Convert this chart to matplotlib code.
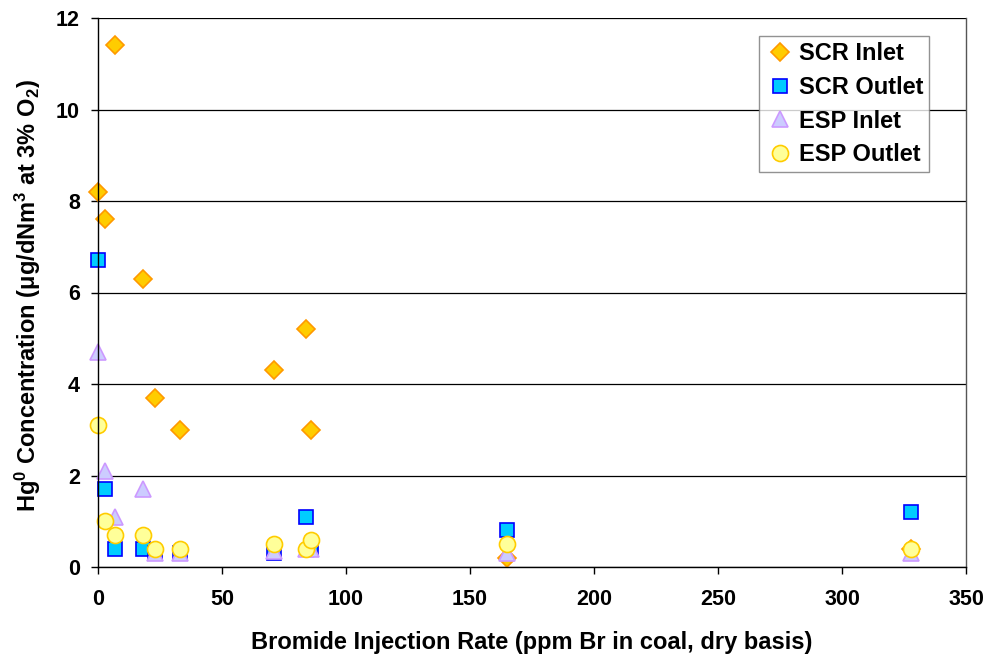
import matplotlib
matplotlib.use("Agg")
import matplotlib.pyplot as plt
from matplotlib.ticker import MultipleLocator

plt.rcParams['font.family'] = ['Liberation Sans', 'DejaVu Sans']
plt.rcParams['font.weight'] = 'bold'
plt.rcParams['mathtext.fontset'] = 'custom'
plt.rcParams['mathtext.rm'] = 'Liberation Sans:bold'
plt.rcParams['mathtext.bf'] = 'Liberation Sans:bold'
plt.rcParams['mathtext.default'] = 'bf'

# Data
scr_in_x = [0, 3, 7, 18, 23, 33, 71, 84, 86, 165, 328]
scr_in_y = [8.2, 7.6, 11.4, 6.3, 3.7, 3.0, 4.3, 5.2, 3.0, 0.2, 0.4]
scr_out_x = [0, 3, 7, 18, 23, 33, 71, 84, 86, 165, 328]
scr_out_y = [6.7, 1.7, 0.4, 0.4, 0.3, 0.3, 0.3, 1.1, 0.4, 0.8, 1.2]
esp_in_x = [0, 3, 7, 18, 23, 33, 71, 84, 86, 165, 328]
esp_in_y = [4.7, 2.1, 1.1, 1.7, 0.3, 0.3, 0.35, 0.4, 0.4, 0.3, 0.3]
esp_out_x = [0, 3, 7, 18, 23, 33, 71, 84, 86, 165, 328]
esp_out_y = [3.1, 1.0, 0.7, 0.7, 0.4, 0.4, 0.5, 0.4, 0.6, 0.5, 0.4]

W, H = 987, 660
fig = plt.figure(figsize=(W / 100, H / 100), dpi=100)
ax = fig.add_axes([98 / W, 93 / H, 868 / W, 549 / H])

ax.set_xlim(0, 350)
ax.set_ylim(0, 12)
ax.xaxis.set_major_locator(MultipleLocator(50))
ax.yaxis.set_major_locator(MultipleLocator(2))
ax.yaxis.grid(True, color='black', linewidth=0.9)
ax.set_axisbelow(True)

ms = 10.5
ax.plot(scr_in_x, scr_in_y, linestyle='none', marker='D', markersize=ms * 0.85,
        markerfacecolor='#FFCC00', markeredgecolor='#FF9900', markeredgewidth=1.2,
        label='SCR Inlet', clip_on=False)
ax.plot(scr_out_x, scr_out_y, linestyle='none', marker='s', markersize=ms,
        markerfacecolor='#00CCFF', markeredgecolor='#0000FF', markeredgewidth=1.2,
        label='SCR Outlet', clip_on=False)
ax.plot(esp_in_x, esp_in_y, linestyle='none', marker='^', markersize=ms * 1.1,
        markerfacecolor='#CCCCFF', markeredgecolor='#CC99FF', markeredgewidth=1.2,
        label='ESP Inlet', clip_on=False)
ax.plot(esp_out_x, esp_out_y, linestyle='none', marker='o', markersize=ms * 1.1,
        markerfacecolor='#FFFF99', markeredgecolor='#FFCC00', markeredgewidth=1.2,
        label='ESP Outlet', clip_on=False)

for s in ['left', 'bottom']:
    ax.spines[s].set_color('black')
    ax.spines[s].set_linewidth(1.0)
ax.spines['top'].set_visible(False)
ax.spines['right'].set_color('#555555')
ax.spines['right'].set_linewidth(1.0)

ax.tick_params(axis='both', direction='out', length=5, width=1, labelsize=15.5, colors='black')
ax.tick_params(axis='x', pad=11)
ax.tick_params(axis='y', pad=8)
for lbl in ax.get_xticklabels() + ax.get_yticklabels():
    lbl.set_fontweight('bold')

ax.set_xlabel('Bromide Injection Rate (ppm Br in coal, dry basis)', fontsize=17,
              fontweight='bold')
ax.set_ylabel(r'Hg$^{0}$ Concentration (μg/dNm$^{3}$ at 3% O$_{2}$)', fontsize=17,
              fontweight='bold')
ax.xaxis.set_label_coords(0.5, (567 - 631) / 549)
ax.yaxis.set_label_coords((43 - 98) / 868, (567 - 296) / 549)

leg = ax.legend(loc='upper right', bbox_to_anchor=(929 / W, 1 - 36 / H),
                bbox_transform=fig.transFigure, fontsize=17, frameon=True, fancybox=False,
                handletextpad=0.12, borderpad=0.25, labelspacing=0.46, handlelength=1.3,
                borderaxespad=0)
leg.get_frame().set_edgecolor('#777777')
leg.get_frame().set_linewidth(1.0)
for t in leg.get_texts():
    t.set_fontweight('bold')

fig.savefig('out.png', dpi=100)
